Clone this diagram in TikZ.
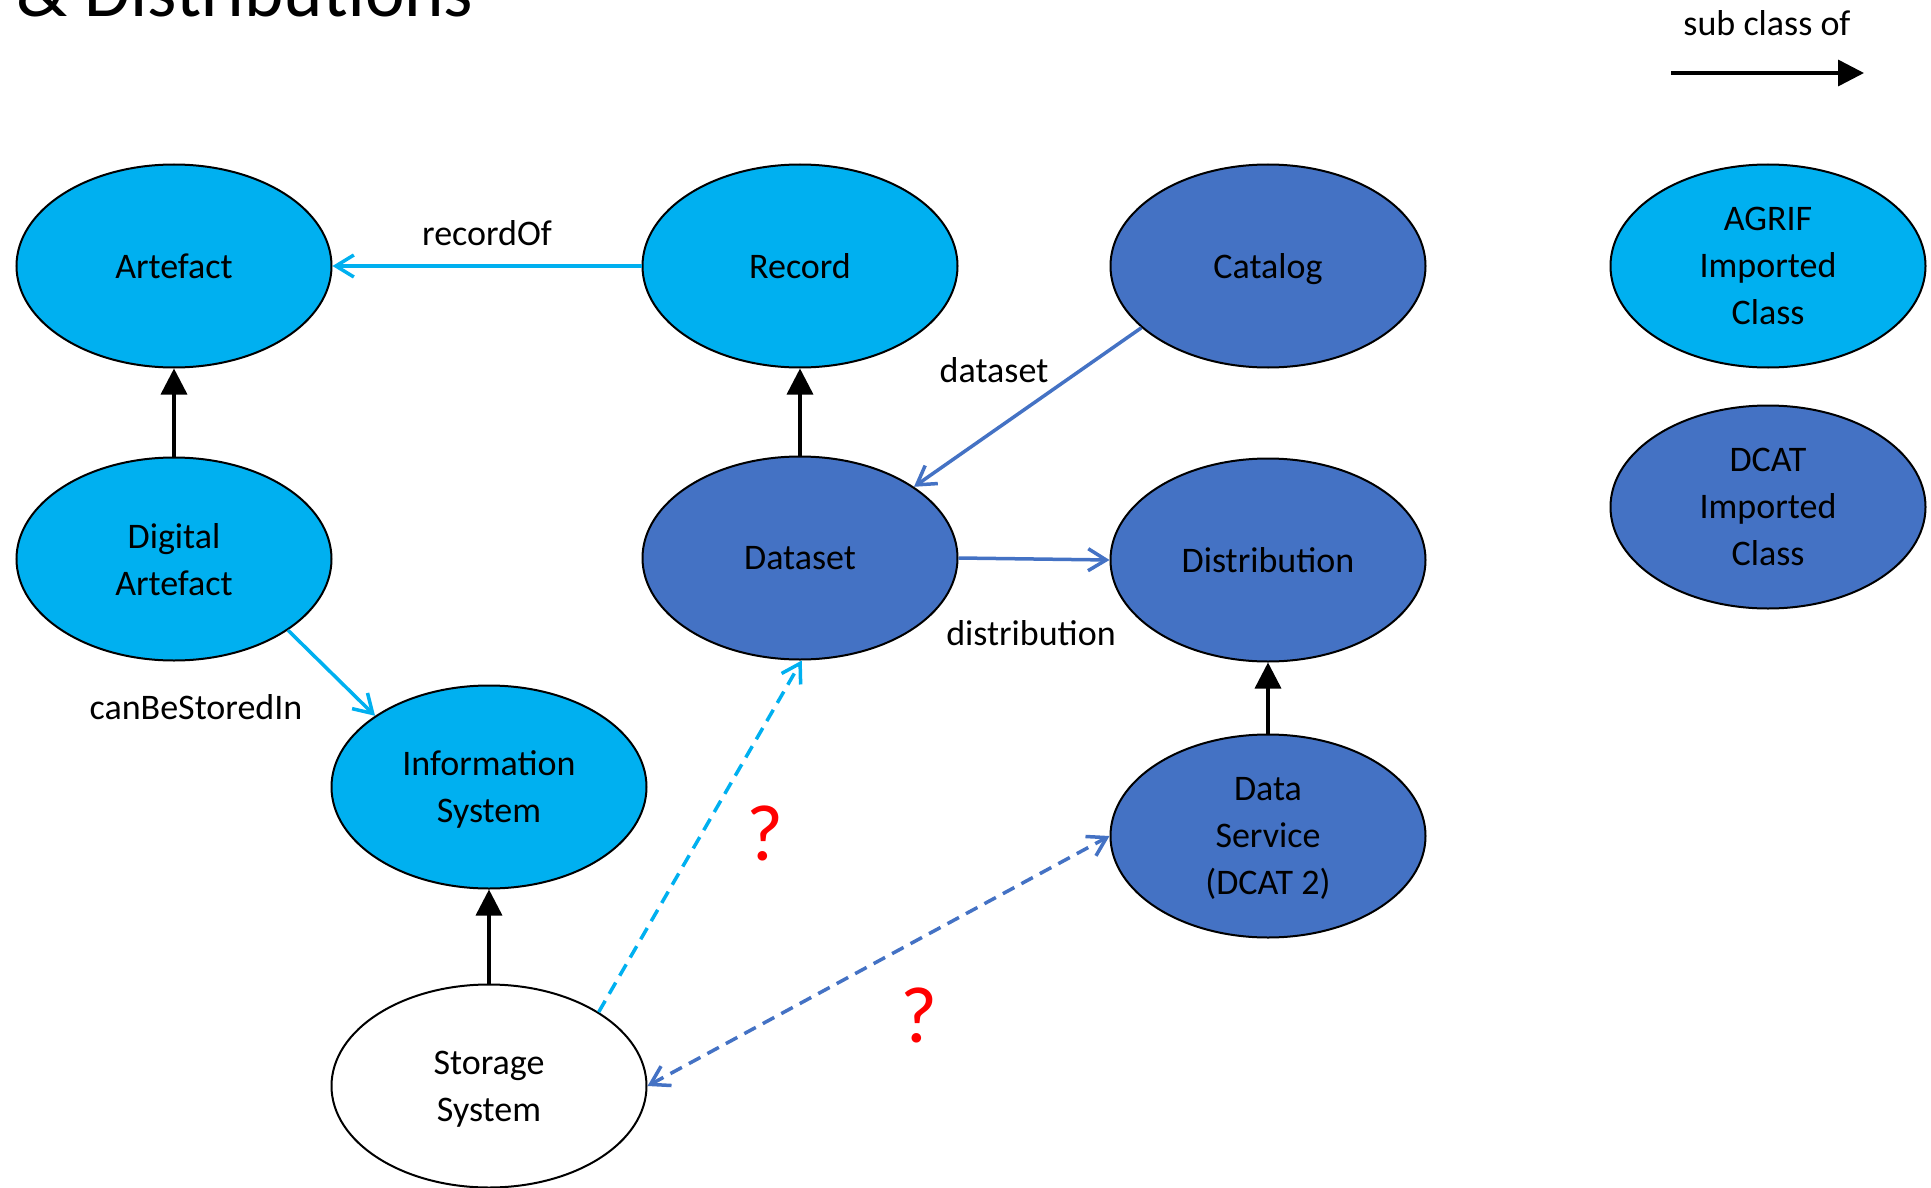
\documentclass[tikz,border=0pt]{standalone}
\usepackage{fontspec}
\setmainfont{Carlito}
\usetikzlibrary{shapes.geometric,arrows.meta}
\definecolor{cyanc}{HTML}{00B0F0}
\definecolor{bluec}{HTML}{4472C4}
\begin{document}
\begin{tikzpicture}[x=1pt,y=-1pt,
 cls/.style={ellipse,draw=black,line width=2pt,minimum width=315pt,minimum height=203pt,inner sep=0pt,align=center,text depth=0pt,font=\fontsize{36}{47}\selectfont},
 agrif/.style={cls,fill=cyanc},
 dcat/.style={cls,fill=bluec},
 plainc/.style={cls,fill=white},
 subcls/.style={line width=3.5pt,-{Triangle[length=26pt,width=26pt]}},
 rel/.style={line width=3.5pt,-{Straight Barb[length=18pt,width=22pt]}},
 lbl/.style={font=\fontsize{36}{44}\selectfont,inner sep=0pt},
 qm/.style={font=\fontsize{80}{90}\selectfont,text=red,inner sep=0pt}
]
\useasboundingbox (0,0) rectangle (1931,1188);
\node[anchor=base west,inner sep=0pt,font=\fontsize{75}{90}\selectfont] (title) at (16,17) {\& Distributions};

\node[agrif] (art) at (174,266) {Artefact};
\node[agrif] (rec) at (800,266) {Record};
\node[dcat] (cat) at (1268,266) {Catalog};
\node[agrif] (agr) at (1768,266) {AGRIF\\Imported\\Class};
\node[agrif] (dart) at (174,559) {Digital\\Artefact};
\node[dcat] (ds) at (800,558) {Dataset};
\node[dcat] (dist) at (1268,560) {Distribution};
\node[dcat] (dcl) at (1768,507) {DCAT\\Imported\\Class};
\node[agrif] (is) at (489,787) {Information\\System};
\node[dcat] (dsv) at (1268,836) {Data\\Service\\(DCAT 2)};
\node[plainc] (ss) at (489,1086) {Storage\\System};

% legend
\node[lbl] (leg) at (1767,23) {sub class of};
\coordinate (la) at (1671,73);
\coordinate (lb) at (1864,73);
\draw[subcls] (la) -- (lb);

% subclass arrows
\draw[subcls] (dart.north) -- (art.south);
\draw[subcls] (ds.north) -- (rec.south);
\draw[subcls] (dsv.north) -- (dist.south);
\draw[subcls] (ss.north) -- (is.south);

% relations
\draw[rel,cyanc] (rec.west) -- (art.east);
\node[lbl] (l1) at (487,233) {recordOf};
\draw[rel,cyanc] (dart.328) -- (is.148);
\node[lbl] (l2) at (196,707) {canBeStoredIn};
\draw[rel,bluec] (cat.206) -- (ds.32);
\node[lbl] (l3) at (994,370) {dataset};
\draw[rel,bluec] (ds.east) -- (dist.west);
\node[lbl] (l4) at (1031,633) {distribution};

\draw[rel,cyanc,dash pattern=on 13pt off 8pt] (ss.34) -- (ds.271);
\draw[rel,bluec,dash pattern=on 13pt off 8pt,{Straight Barb[length=18pt,width=22pt]}-{Straight Barb[length=18pt,width=22pt]}] (ss.east) -- (dsv.west);

\node[qm] (q1) at (765,833) {?};
\node[qm] (q2) at (919,1015) {?};
\end{tikzpicture}
\end{document}
